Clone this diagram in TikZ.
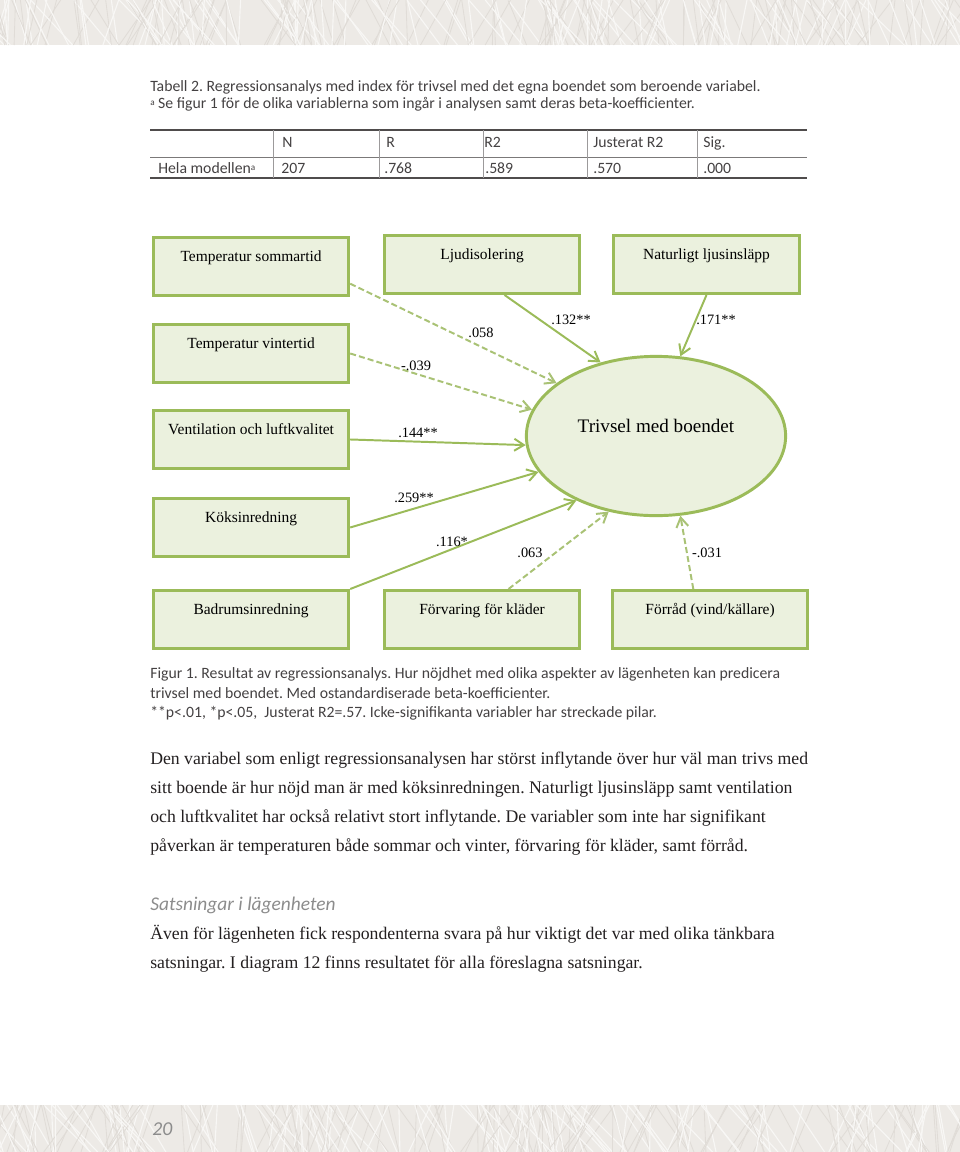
\documentclass[tikz,border=0pt]{standalone}
\usepackage{fontspec}
\setmainfont{Liberation Serif}
\newfontfamily\calibri{Carlito}
\usetikzlibrary{arrows.meta,shapes.geometric}
\frenchspacing

\definecolor{leaf}{HTML}{9BBB59}
\definecolor{leafdash}{HTML}{A9C275}
\definecolor{leafbg}{HTML}{EBF1DE}
\definecolor{paper}{HTML}{EDEAE6}
\definecolor{paperline}{HTML}{E0DCD7}
\definecolor{ink}{HTML}{231F20}
\definecolor{pencil}{HTML}{8C8C8C}

\newcommand\supa{\raisebox{0.35ex}{\fontsize{6.5}{7}\selectfont a}}

\begin{document}
\begin{tikzpicture}[
  x=0.025cm, y=-0.025cm,
  >={Straight Barb[length=2.4mm,width=3mm]},
  var/.style={draw=leaf,line width=2.1pt,fill=leafbg,anchor=north west,inner sep=0pt,
    minimum width=4.88cm,text height=0.6cm,text depth=0.85cm,font=\fontsize{11}{13}\selectfont},
  beta/.style={->,draw=leaf,line width=1.4pt},
  nsbeta/.style={beta,draw=leafdash,dash pattern=on 4.3pt off 2.2pt},
  coef/.style={font=\fontsize{10.2}{12}\selectfont,inner sep=0pt},
  sans/.style={font=\calibri\fontsize{11.2}{13}\selectfont,text=ink!85,anchor=base west,inner sep=0pt},
  body/.style={font=\fontsize{12.6}{15}\selectfont,text=ink,anchor=base west,inner sep=0pt},
  hand/.style={font=\calibri\itshape\fontsize{13.8}{16}\selectfont,text=pencil,anchor=base west,inner sep=0pt}
]
\useasboundingbox (0,0) rectangle (960,1152);

% paper bands
\fill[paper] (0,0) rectangle (960,45);
\fill[paper] (0,1105) rectangle (960,1152);
\pgfmathsetseed{11}
\begin{scope}
  \clip (0,0) rectangle (960,45);
  \foreach \k in {1,...,140}{
    \pgfmathsetmacro{\xa}{rnd*1000-20}
    \pgfmathsetmacro{\xb}{\xa+rnd*70-35}
    \draw[paperline,line width=0.6pt] (\xa,0) -- (\xb,45);
    \draw[white!60!paper,line width=0.8pt] (\xb,0) -- (\xa+12,45);
  }
\end{scope}
\begin{scope}
  \clip (0,1105) rectangle (960,1152);
  \foreach \k in {1,...,140}{
    \pgfmathsetmacro{\xa}{rnd*1000-20}
    \pgfmathsetmacro{\xb}{\xa+rnd*70-35}
    \draw[paperline,line width=0.6pt] (\xa,1105) -- (\xb,1152);
    \draw[white!60!paper,line width=0.8pt] (\xb,1105) -- (\xa+12,1152);
  }
\end{scope}

% table caption
\node[sans] (tcap1) at (150,91) {Tabell 2. Regressionsanalys med index för trivsel med det egna boendet som beroende variabel.};
\node[sans] (tcap2) at (150,108) {\supa\ Se figur 1 för de olika variablerna som ingår i analysen samt deras beta-koefficienter.};

% table
\draw[ink!80,line width=1.4pt] (150,130) -- (807,130);
\draw[ink!60,line width=0.7pt] (150,157) -- (807,157);
\draw[ink!80,line width=1.4pt] (150,178) -- (807,178);
\foreach \cx in {273,379,483,587,697}
  \draw[ink!45,line width=0.7pt] (\cx,130) -- (\cx,178);
\node[sans] (hN) at (282,147) {N};
\node[sans] (hR) at (386,147) {R};
\node[sans] (hRR) at (484,147) {R2};
\node[sans] (hJust) at (593,147) {Justerat R2};
\node[sans] (hSig) at (703,147) {Sig.};
\node[sans] (rLab) at (158,173) {Hela modellen\supa};
\node[sans] (rN) at (281,173) {207};
\node[sans] (rR) at (384,173) {.768};
\node[sans] (rRR) at (485,173) {.589};
\node[sans] (rJust) at (593,173) {.570};
\node[sans] (rSig) at (703,173) {.000};

% predictors
\node[var] (sommar) at (152,236) {Temperatur sommartid};
\node[var] (ljud) at (383,234) {Ljudisolering};
\node[var,minimum width=4.65cm] (natur) at (612,234) {Naturligt ljusinsläpp};
\node[var] (vinter) at (152,323) {Temperatur vintertid};
\node[var] (vent) at (152,409) {Ventilation och luftkvalitet};
\node[var] (kok) at (152,497) {Köksinredning};
\node[var] (badrum) at (152,589) {Badrumsinredning};
\node[var] (forv) at (383,589) {Förvaring för kläder};
\node[var] (forrad) at (611,589) {Förråd (vind/källare)};

% outcome
\node[ellipse,draw=leaf,line width=2.1pt,fill=leafbg,inner sep=0pt,
  minimum width=6.48cm,minimum height=3.98cm,text height=0.3cm,text depth=0.5cm,
  font=\fontsize{13.6}{16}\selectfont] (ell) at (656,436) {Trivsel med boendet};

% paths
\draw[nsbeta] ([yshift=-0.43cm]sommar.east) -- (ell.152);
\draw[nsbeta] (vinter.east) -- (ell.168);
\draw[beta] ([xshift=0.56cm]ljud.south) -- (ell.127);
\draw[beta] (natur.south) -- (ell.73);
\draw[beta] (vent.east) -- (ell.184);
\draw[beta] (kok.east) -- (ell.197);
\draw[beta] (badrum.north east) -- (ell.219);
\draw[nsbeta] ([xshift=0.66cm]forv.north) -- (ell.238);
\draw[nsbeta] ([xshift=-0.42cm]forrad.north) -- (ell.287);

% coefficients
\node[coef] (b1) at (481,333) {.058};
\node[coef] (b2) at (416,366) {-.039};
\node[coef] (b3) at (571,320) {.132**};
\node[coef] (b4) at (716,320) {.171**};
\node[coef] (b5) at (418,433) {.144**};
\node[coef] (b6) at (414,498) {.259**};
\node[coef] (b7) at (452,542) {.116*};
\node[coef] (b8) at (530,553) {.063};
\node[coef] (b9) at (707,553) {-.031};

% figure caption
\node[sans] (fcap1) at (150,678) {Figur 1. Resultat av regressionsanalys. Hur nöjdhet med olika aspekter av lägenheten kan predicera};
\node[sans] (fcap2) at (150,698) {trivsel med boendet. Med ostandardiserade beta-koefficienter.};
\node[sans] (fcap3) at (150,717) {**p<.01, *p<.05,\ \ Justerat R2=.57. Icke-signifikanta variabler har streckade pilar.};

% running text
\node[body] (p1) at (150,764) {Den variabel som enligt regressionsanalysen har störst inflytande över hur väl man trivs med};
\node[body] (p2) at (150,793) {sitt boende är hur nöjd man är med köksinredningen. Naturligt ljusinsläpp samt ventilation};
\node[body] (p3) at (150,822) {och luftkvalitet har också relativt stort inflytande. De variabler som inte har signifikant};
\node[body] (p4) at (150,851) {påverkan är temperaturen både sommar och vinter, förvaring för kläder, samt förråd.};
\node[hand] (head) at (150,910) {Satsningar i lägenheten};
\node[body] (p5) at (150,939) {Även för lägenheten fick respondenterna svara på hur viktigt det var med olika tänkbara};
\node[body] (p6) at (150,968) {satsningar. I diagram 12 finns resultatet för alla föreslagna satsningar.};

\node[hand,font=\calibri\itshape\fontsize{14}{16}\selectfont] (page) at (152,1135) {20};
\end{tikzpicture}
\end{document}
